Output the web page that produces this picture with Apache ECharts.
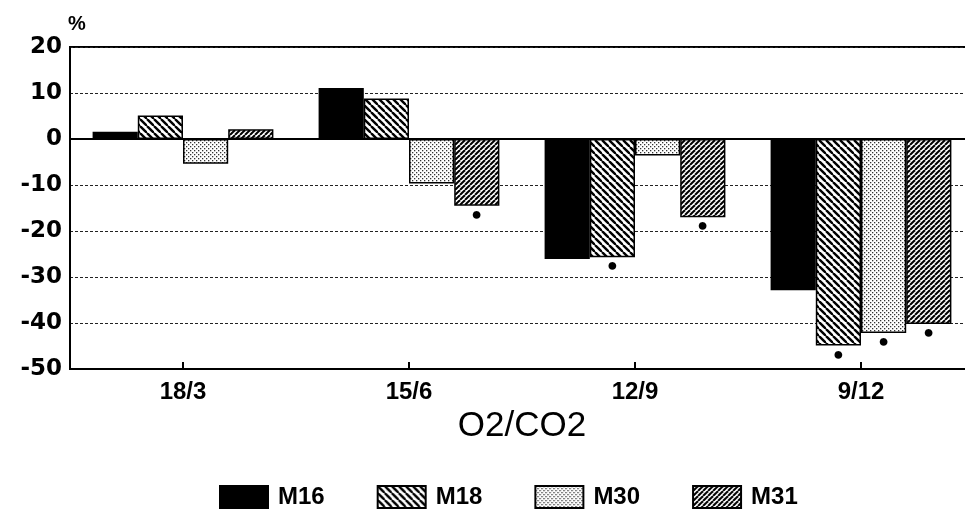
<!DOCTYPE html>
<html>
<head>
<meta charset="utf-8">
<script src="https://cdn.jsdelivr.net/npm/echarts@6/dist/echarts.min.js"></script>
<style>
  html, body { margin: 0; padding: 0; background: #fff; overflow: hidden; }
  #chart { width: 980px; height: 513px; }
</style>
</head>
<body>
<div id="chart"></div>
<script>
const categories = ['18/3', '15/6', '12/9', '9/12']
const seriesNames = ['M16', 'M18', 'M30', 'M31']
const m16 = [1.6, 11.1, -26.1, -32.9]
const m18 = [5.1, 8.8, -25.7, -44.9]
const m30 = [-5.4, -9.7, -3.6, -42.2]
const m31 = [2.1, -14.5, -17.0, -40.2]
// significance dots under the bar (1 = marked)
const sig16 = [0, 0, 0, 0]
const sig18 = [0, 0, 1, 1]
const sig30 = [0, 0, 0, 1]
const sig31 = [0, 1, 1, 1]
const yTicks = [-50, -40, -30, -20, -10, 0, 10, 20]

const FONT = '"Liberation Sans", Arial, Helvetica, sans-serif'
const WIDE = '"DejaVu Sans", Verdana, sans-serif'

// pattern tiles
function hatch(dir, s, lw) {
  const c = document.createElement('canvas')
  c.width = s; c.height = s
  const ctx = c.getContext('2d')
  ctx.fillStyle = '#fff'
  ctx.fillRect(0, 0, s, s)
  ctx.strokeStyle = '#000'
  ctx.lineWidth = lw
  for (let k = -1; k <= 1; k++) {
    ctx.beginPath()
    if (dir === 'back') {
      ctx.moveTo(k * s, 0); ctx.lineTo(k * s + s, s)
    } else {
      ctx.moveTo(k * s, s); ctx.lineTo(k * s + s, 0)
    }
    ctx.stroke()
  }
  return c
}
function dots() {
  const c = document.createElement('canvas')
  c.width = 4; c.height = 4
  const ctx = c.getContext('2d')
  ctx.fillStyle = '#fff'
  ctx.fillRect(0, 0, 4, 4)
  ctx.fillStyle = '#333'
  ctx.fillRect(0, 0, 1.3, 1.3)
  ctx.fillRect(2, 2, 1.3, 1.3)
  return c
}

const fills = [
  '#000',
  { image: hatch('back', 7, 2.4), repeat: 'repeat' },
  { image: dots(), repeat: 'repeat' },
  { image: hatch('fwd', 5, 2), repeat: 'repeat' }
]

function items(vals, sig) {
  return vals.map((v, i) => sig[i]
    ? { value: v, label: { show: true } }
    : { value: v })
}

const allVals = [m16, m18, m30, m31]
const allSig = [sig16, sig18, sig30, sig31]

const series = seriesNames.map((name, i) => ({
  name: name,
  type: 'bar',
  barGap: '0%',
  barCategoryGap: '20%',
  itemStyle: { color: fills[i], borderColor: '#000', borderWidth: 1.5 },
  label: {
    show: false,
    position: 'outside',
    distance: 0,
    formatter: '●',
    color: '#000',
    fontSize: 18
  },
  data: items(allVals[i], allSig[i])
}))

series[0].markLine = {
  silent: true,
  symbol: 'none',
  label: { show: false },
  lineStyle: { color: '#000', type: 'solid', width: 2 },
  data: [{ yAxis: 0 }]
}

const chart = echarts.init(document.getElementById('chart'))
chart.setOption({
  animation: false,
  textStyle: { fontFamily: FONT },
  grid: {
    left: 70, right: 6, top: 47, bottom: 144,
    show: true, borderColor: '#000', borderWidth: 2
  },
  graphic: [{
    type: 'text', left: 68, top: 14,
    style: { text: '%', font: 'bold 20px ' + FONT, fill: '#000' }
  }],
  legend: {
    top: 485,
    left: 219,
    padding: 0,
    itemWidth: 48,
    itemHeight: 22,
    itemGap: 52,
    icon: 'rect',
    textStyle: { fontFamily: FONT, fontWeight: 'bold', fontSize: 24, color: '#000', padding: [0, 0, 0, 5] },
    data: seriesNames
  },
  xAxis: {
    type: 'category',
    data: categories,
    name: 'O2/CO2',
    nameLocation: 'middle',
    nameGap: 33,
    nameTextStyle: { fontFamily: FONT, fontSize: 35, color: '#000', verticalAlign: 'top' },
    axisLine: { onZero: false, lineStyle: { color: '#000', width: 2 } },
    axisTick: { show: true, inside: true, alignWithLabel: true, length: 7, lineStyle: { color: '#000', width: 2 } },
    axisLabel: { fontWeight: 'bold', fontSize: 24, color: '#000', margin: 11 }
  },
  yAxis: {
    type: 'value',
    min: yTicks[0],
    max: yTicks[yTicks.length - 1],
    interval: 10,
    axisLine: { show: true, lineStyle: { color: '#000', width: 2 } },
    axisTick: { show: false },
    axisLabel: { fontFamily: WIDE, fontWeight: 'bold', fontSize: 23, color: '#000', margin: 8 },
    splitLine: { show: true, lineStyle: { color: '#222', type: [3, 2], width: 1 } }
  },
  series: series
})
</script>
</body>
</html>
